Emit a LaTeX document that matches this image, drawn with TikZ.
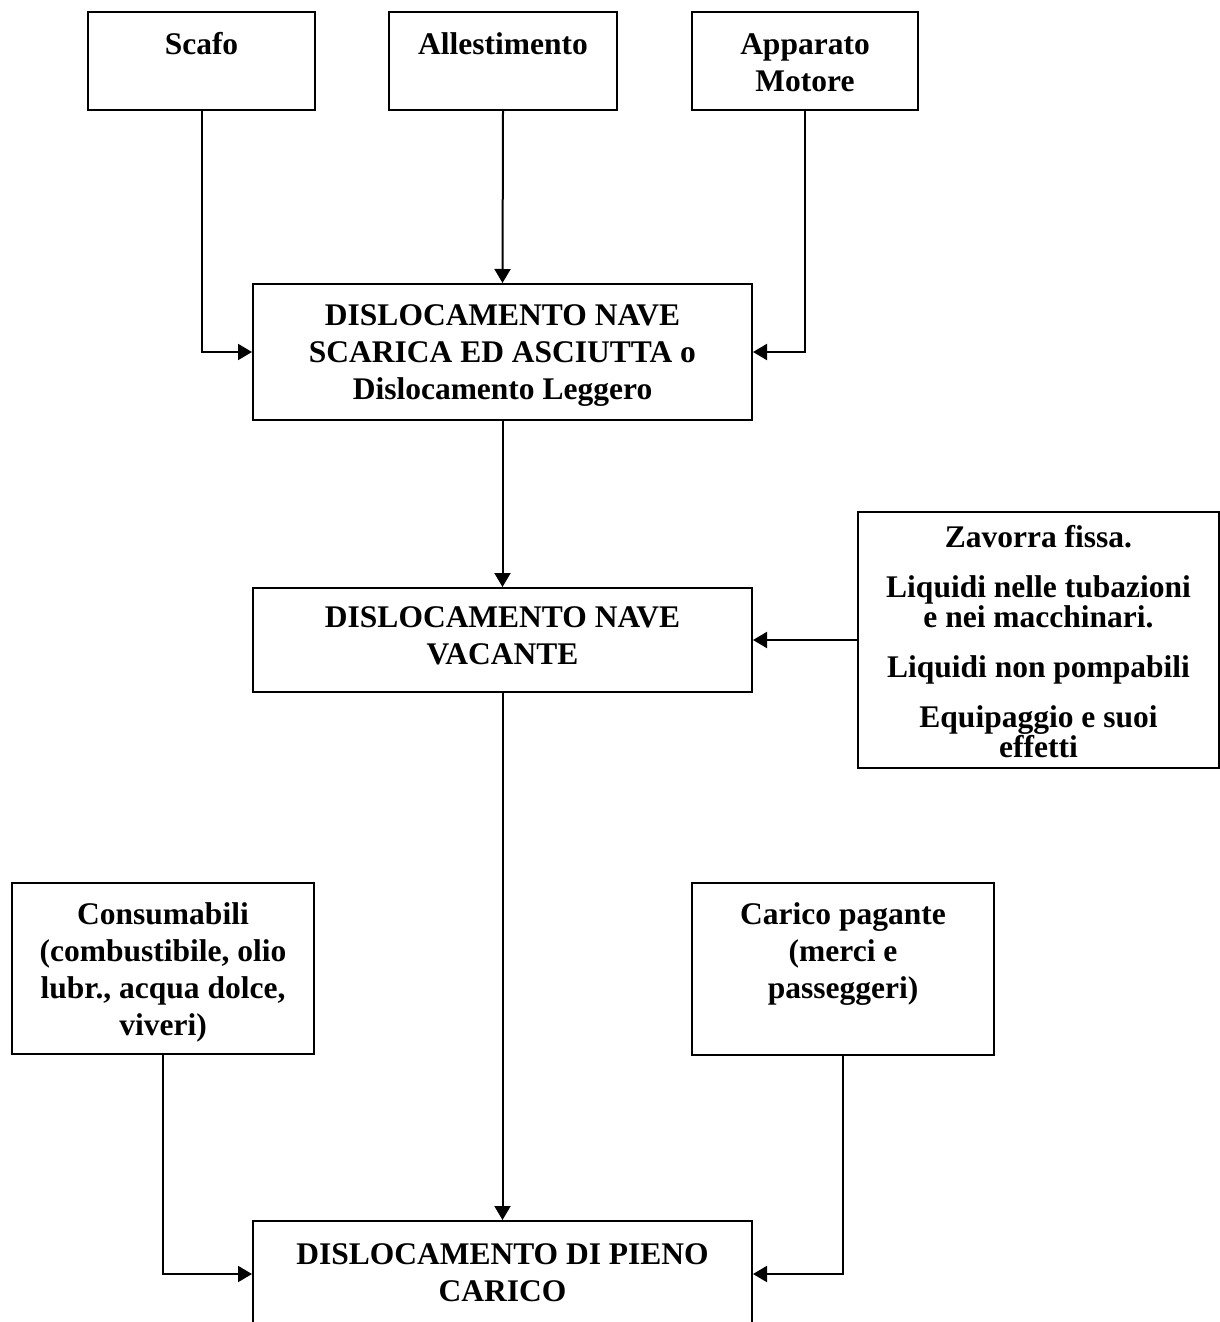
\documentclass[tikz,border=0pt]{standalone}
\usepackage{fontspec}
\setmainfont{Liberation Serif}
\usetikzlibrary{arrows.meta}

\begin{document}
\begin{tikzpicture}[x=0.5pt,y=-0.5pt,
  blocco/.style={draw,line width=1pt,anchor=north west,inner xsep=0pt,inner ysep=0pt,
    align=flush center,font=\fontsize{15.75}{18.5}\selectfont\bfseries},
  freccia/.style={line width=1pt,-{Triangle[length=7pt,width=8pt]}}]
\path[use as bounding box] (0,0) rectangle (1220,1322);
% contributi al dislocamento leggero
\node[blocco,text width=113.5pt,text height=21.25pt,text depth=27.75pt] (scafo) at (87,11) {Scafo};
\node[blocco,text width=114pt,text height=21.25pt,text depth=27.75pt] (allest) at (388,11) {Allestimento};
\node[blocco,text width=113pt,text height=21.5pt,text depth=27.5pt] (motore) at (691,11) {Apparato\\Motore};
\node[blocco,text width=249.5pt,text height=20.75pt,text depth=47.25pt] (leggero) at (252,283)
  {DISLOCAMENTO NAVE\\SCARICA ED ASCIUTTA o\\Dislocamento Leggero};
\node[blocco,text width=249.5pt,text height=19.75pt,text depth=32.25pt] (vacante) at (252,587)
  {DISLOCAMENTO NAVE\\VACANTE};
\node[blocco,text width=180.5pt,text height=17.75pt,text depth=110.25pt,
  font=\fontsize{15.75}{15}\selectfont\bfseries] (zavorra) at (857,511)
  {Zavorra fissa.\\[10pt]Liquidi nelle tubazioni\\e nei macchinari.\\[10pt]Liquidi non pompabili\\[10pt]Equipaggio e suoi\\effetti};
\node[blocco,text width=151pt,text height=20.75pt,text depth=65pt] (consum) at (11,881.5)
  {Consumabili\\(combustibile, olio\\lubr., acqua dolce,\\viveri)};
\node[blocco,text width=151pt,text height=20.75pt,text depth=65.5pt] (carico) at (691,881.5)
  {Carico pagante\\(merci e\\passeggeri)};
\node[blocco,text width=249.5pt,text height=21.75pt,text depth=31.25pt] (pieno) at (252,1220)
  {DISLOCAMENTO DI PIENO\\CARICO};
% collegamenti
\draw[freccia] (scafo.south) |- (leggero.west);
\draw[freccia] (allest.south) -- (leggero.north);
\draw[freccia] (motore.south) |- (leggero.east);
\draw[freccia] (leggero.south) -- (vacante.north);
\draw[freccia] (zavorra.west) -- (vacante.east);
\draw[freccia] (vacante.south) -- (pieno.north);
\draw[freccia] (consum.south) |- (pieno.west);
\draw[freccia] (carico.south) |- (pieno.east);
\end{tikzpicture}
\end{document}
